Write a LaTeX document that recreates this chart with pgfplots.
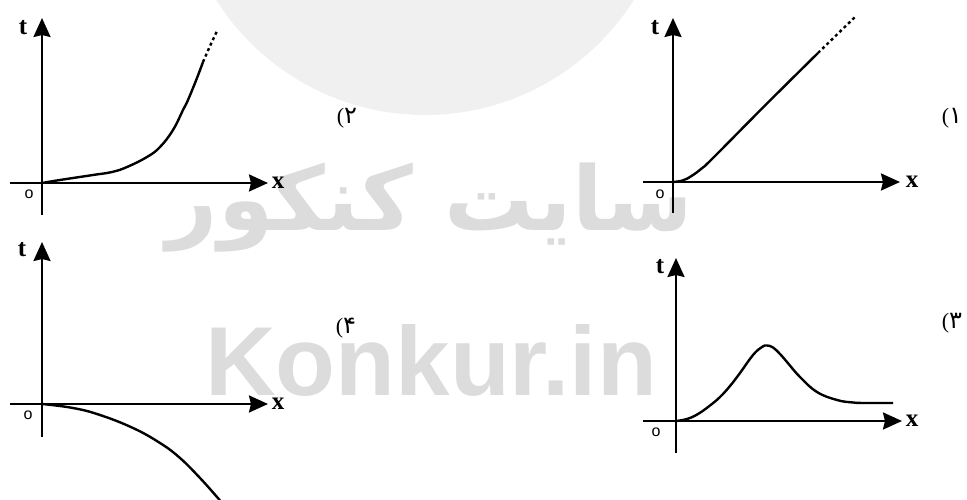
\documentclass[border=0pt]{standalone}
\usepackage{fontspec}
\setmainfont{Liberation Serif}
\newfontfamily\arabicfont[Script=Arabic]{DejaVu Sans}
\newfontfamily\wmfont{Liberation Sans}
\usepackage{pgfplots}
\pgfplotsset{compat=1.18}
\usetikzlibrary{arrows.meta}
\TeXXeTstate=1
\definecolor{wmcircle}{HTML}{F0F0F0}
\definecolor{wmtext}{HTML}{DCDCDC}
\pgfplotsset{
  panel/.style={
    scale only axis, clip=false, axis lines=middle,
    xtick=\empty, ytick=\empty, enlargelimits=false,
    axis line style={line width=2.4pt, black, -{Stealth[length=19pt,width=17pt,inset=2pt]}},
    anchor=origin,
  },
  curve/.style={line width=2.4pt, black, smooth, tension=0.7, no markers},
}
\newcommand{\tl}{\fontsize{25}{25}\selectfont\bfseries t}
\newcommand{\xl}{\fontsize{25}{25}\selectfont\bfseries x}
\newcommand{\zl}{\wmfont\fontsize{16}{16}\selectfont o}
\newcommand{\pl}[1]{{\fontsize{22}{22}\selectfont(}{\arabicfont\fontsize{24}{24}\selectfont #1}}
\begin{document}
\begin{tikzpicture}
% watermark
\begin{scope}
\clip (0,0) rectangle (967pt,500pt);
\fill[wmcircle] (425pt,632pt) circle (247pt);
\end{scope}
\node[text=wmtext, anchor=base, inner sep=0pt] at (430pt,269pt)
  {\arabicfont\bfseries\fontsize{89}{89}\selectfont\beginR سایت کنکور\endR};
\node[text=wmtext, anchor=base, inner sep=0pt] at (431pt,104pt)
  {\wmfont\bfseries\fontsize{98}{98}\selectfont Konkur.in};

% Panel 2 (top left)
\begin{axis}[panel, at={(42pt,317pt)}, width=258pt, height=197pt,
  xmin=-32, xmax=226, ymin=-32, ymax=165]
\addplot[curve] coordinates {(0,0) (18,3) (51,8) (70,11) (85,16) (105,26) (118,36) (131,53) (141,73) (146,83) (155,105) (161,121)};
\addplot[line width=2.4pt, black, dash pattern=on 3pt off 3pt] coordinates {(161,121) (168,137) (175,152)};
\node at (axis cs:-19,155) {\tl};
\node at (axis cs:236,0) {\xl};
\node at (axis cs:-13,-11) {\zl};
\node at (axis cs:305,65) {\pl{۲}};
\end{axis}

% Panel 1 (top right)
\begin{axis}[panel, at={(673pt,318pt)}, width=257pt, height=195pt,
  xmin=-30, xmax=227, ymin=-31, ymax=164]
\addplot[curve] coordinates {(0,0) (9.6,1.5) (18.5,6) (28.6,13.5) (40,24) (92,76.5) (145,129)};
\addplot[line width=2.4pt, black, dash pattern=on 3pt off 3pt] coordinates {(145,129) (182,165)};
\node at (axis cs:-18,154) {\tl};
\node at (axis cs:239,0) {\xl};
\node at (axis cs:-13,-12) {\zl};
\node at (axis cs:279,64) {\pl{۱}};
\end{axis}

% Panel 4 (bottom left)
\begin{axis}[panel, at={(42pt,96pt)}, width=258pt, height=195pt,
  xmin=-32, xmax=226, ymin=-33, ymax=162]
\addplot[curve] coordinates {(0,0) (31,-4) (58,-11) (91,-24) (118,-39) (138,-54) (158,-74) (175,-93) (180,-99)};
\node at (axis cs:-20,154) {\tl};
\node at (axis cs:236,0) {\xl};
\node at (axis cs:-14,-11) {\zl};
\node at (axis cs:304,76) {\pl{۴}};
\end{axis}

% Panel 3 (bottom right)
\begin{axis}[panel, at={(676pt,79pt)}, width=259pt, height=195pt,
  xmin=-33, xmax=226, ymin=-32, ymax=163]
\addplot[curve] coordinates {(0,0) (11,2) (22,7) (34,15.5) (44,24) (54,35) (64,48) (77,66) (86,74) (91,75.5) (97,73.5) (104,67) (111,59) (124,44) (141,29) (161,21) (177,18.5) (190,18) (217,18)};
\node at (axis cs:-16,154) {\tl};
\node at (axis cs:236,0) {\xl};
\node at (axis cs:-20,-11) {\zl};
\node at (axis cs:276,98) {\pl{۳}};
\end{axis}
\pgfresetboundingbox
\useasboundingbox (0,0) rectangle (967pt,500pt);
\end{tikzpicture}
\end{document}
